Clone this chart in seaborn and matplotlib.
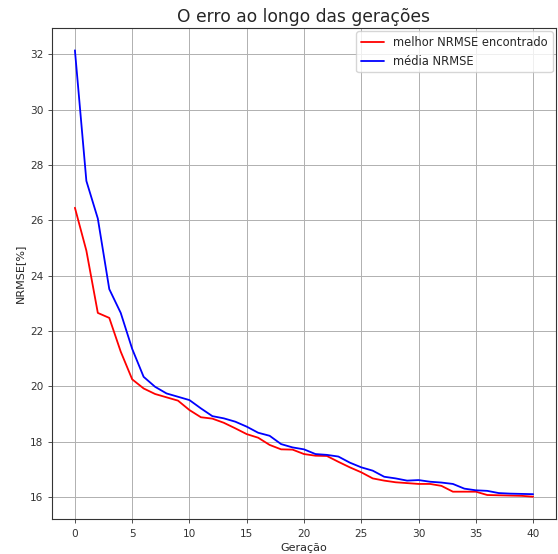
import numpy as np
import pandas as pd
import matplotlib
matplotlib.use("Agg")
import matplotlib.pyplot as plt
import seaborn as sns

geracao = list(range(41))
melhor = [26.45, 24.9, 22.65, 22.47, 21.25, 20.25, 19.92, 19.72, 19.6, 19.48,
          19.14, 18.88, 18.83, 18.68, 18.48, 18.27, 18.14, 17.88, 17.72, 17.71,
          17.55, 17.49, 17.48, 17.27, 17.07, 16.89, 16.67, 16.59, 16.53, 16.5,
          16.47, 16.47, 16.4, 16.19, 16.19, 16.19, 16.07, 16.06, 16.05, 16.04,
          16.01]
media = [32.14, 27.42, 26.06, 23.51, 22.65, 21.35, 20.34, 19.98, 19.74, 19.62,
         19.5, 19.2, 18.92, 18.84, 18.72, 18.54, 18.32, 18.21, 17.91, 17.79,
         17.72, 17.55, 17.52, 17.46, 17.24, 17.07, 16.95, 16.73, 16.67, 16.59,
         16.61, 16.55, 16.52, 16.47, 16.3, 16.24, 16.22, 16.14, 16.12, 16.11,
         16.1]

df = pd.DataFrame({"Geração": geracao, "melhor": melhor, "media": media})

sns.set_style("ticks", {"axes.grid": True, "grid.color": "#b0b0b0"})
plt.rcParams['font.family'] = ['DejaVu Sans']

fig = plt.figure(figsize=(5.58, 5.54), dpi=100)
ax = fig.add_axes([0.0932, 0.0632, 0.9032, 0.8863])
sns.lineplot(data=df, x="Geração", y="melhor", color="red", ax=ax,
             label="melhor NRMSE encontrado", linewidth=1.3)
sns.lineplot(data=df, x="Geração", y="media", color="blue", ax=ax,
             label="média NRMSE", linewidth=1.3)
ax.set_title("O erro ao longo das gerações", fontsize=12.3, pad=4.3)
ax.set_xlabel("Geração", fontsize=8, labelpad=3.0)
ax.set_ylabel("NRMSE[%]", fontsize=8, labelpad=3.2)
ax.tick_params(labelsize=7.6, length=3.2, width=0.6, pad=3.0, colors="#333333")
ax.tick_params(axis="x", pad=4.2)
ax.set_xticks([0, 5, 10, 15, 20, 25, 30, 35, 40])
ax.set_yticks([16, 18, 20, 22, 24, 26, 28, 30, 32])
ax.grid(True, color="#b0b0b0", linewidth=0.7)
for s in ax.spines.values():
    s.set_color("#333333")
    s.set_linewidth(0.8)
ax.legend(loc="upper right", fontsize=8.3, frameon=True, borderaxespad=0.3,
          handlelength=2.0)
fig.savefig("out.png", dpi=100)
